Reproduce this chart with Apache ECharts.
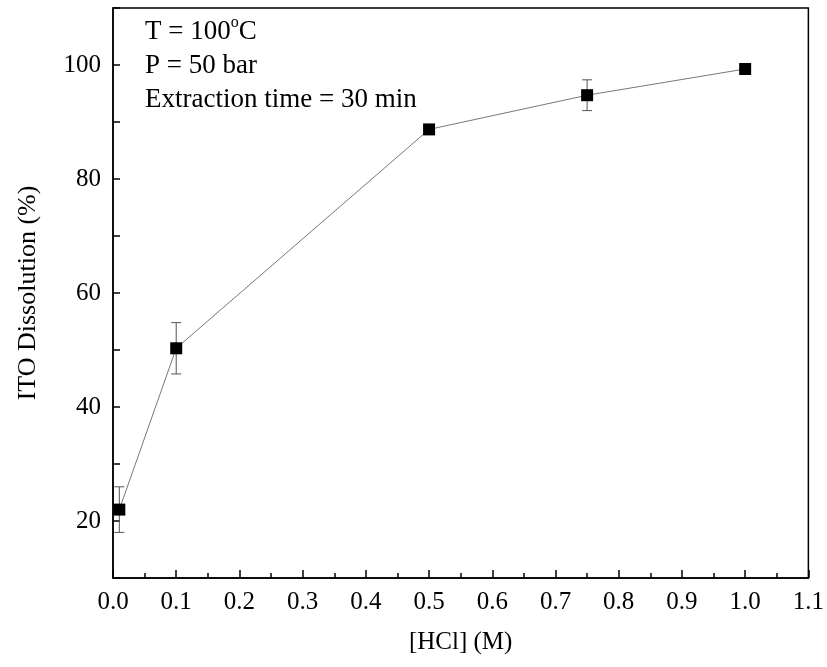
<!DOCTYPE html>
<html><head><meta charset="utf-8">
<script src="https://cdn.jsdelivr.net/npm/echarts@6/dist/echarts.min.js"></script>
<style>body{margin:0}#main{width:827px;height:667px}</style>
</head><body><div id="main"></div>
<script>
var hcl = [0.01, 0.1, 0.5, 0.75, 1.0];
var dissolution = [22.0, 50.3, 88.7, 94.7, 99.3];
var errors = [4.0, 4.5, 0.6, 2.7, 0.6];

var font = 'Liberation Serif';
var myChart = echarts.init(document.getElementById('main'));
var pts = hcl.map(function (x, i) { return [x, dissolution[i]]; });
var errData = hcl.map(function (x, i) { return [x, dissolution[i] - errors[i], dissolution[i] + errors[i]]; });

option = {
    animation: false,
    grid: { left: 113, right: 18, top: 8, bottom: 89, show: true, borderColor: '#000', borderWidth: 1.5 },
    xAxis: {
        type: 'value', min: 0, max: 1.1, interval: 0.1,
        name: '[HCl] (M)', nameLocation: 'middle', nameGap: 52,
        nameTextStyle: { fontFamily: font, fontSize: 25, color: '#000' },
        axisLine: { lineStyle: { color: '#000', width: 1.5 } },
        axisTick: { inside: true, length: 8, lineStyle: { color: '#000', width: 1.5 } },
        minorTick: { show: true, splitNumber: 2, length: 5, lineStyle: { color: '#000', width: 1.5 } },
        axisLabel: { fontFamily: font, fontSize: 25, color: '#000', margin: 12,
            formatter: function (v) { return v.toFixed(1); } },
        splitLine: { show: false }
    },
    yAxis: {
        type: 'value', min: 10, max: 110, interval: 10,
        name: 'ITO Dissolution (%)', nameLocation: 'middle', nameGap: 72,
        nameTextStyle: { fontFamily: font, fontSize: 26, color: '#000' },
        axisLine: { lineStyle: { color: '#000', width: 1.5 } },
        axisTick: { inside: true, length: 7, lineStyle: { color: '#000', width: 1.5 } },
        axisLabel: { fontFamily: font, fontSize: 25, color: '#000', margin: 12,
            formatter: function (v) { return (v % 20 === 0 && v <= 100) ? String(v) : ''; } },
        splitLine: { show: false }
    },
    graphic: [{
        type: 'text', left: 145, top: 15,
        style: { text: '{a|T = 100}{s|o}{a|C}\n{a|P = 50 bar}\n{a|Extraction time = 30 min}',
            rich: {
                a: { font: '27px "Liberation Serif"', fill: '#000', lineHeight: 34 },
                s: { font: '16px "Liberation Serif"', fill: '#000', lineHeight: 34, verticalAlign: 'top', padding: [0, 0, 12, 0] }
            } }
    }],
    series: [
        {
            type: 'custom', data: errData, z: 1,
            renderItem: function (params, api) {
                var x = api.value(0);
                var lo = api.coord([x, api.value(1)]);
                var hi = api.coord([x, api.value(2)]);
                var w = 5;
                var st = { stroke: '#555', lineWidth: 1 };
                return { type: 'group', children: [
                    { type: 'line', shape: { x1: lo[0], y1: lo[1], x2: hi[0], y2: hi[1] }, style: st },
                    { type: 'line', shape: { x1: lo[0] - w, y1: lo[1], x2: lo[0] + w, y2: lo[1] }, style: st },
                    { type: 'line', shape: { x1: hi[0] - w, y1: hi[1], x2: hi[0] + w, y2: hi[1] }, style: st }
                ] };
            }
        },
        {
            type: 'line', data: pts, z: 2,
            symbol: 'rect', symbolSize: 12,
            lineStyle: { color: '#777', width: 1 },
            itemStyle: { color: '#000' }
        }
    ]
};
myChart.setOption(option);
</script></body></html>
